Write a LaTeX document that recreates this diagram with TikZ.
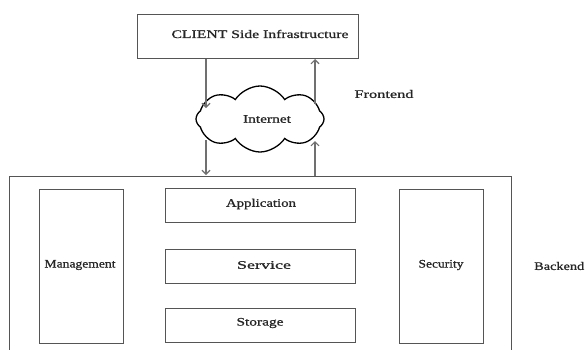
\documentclass[tikz,border=0pt]{standalone}
\usepackage{fontspec}
\setmainfont{Liberation Serif}
\newfontfamily\lblfont{Liberation Serif}[FakeBold=0.8]
\usepackage{graphicx}
\usetikzlibrary{arrows.meta,shapes.symbols}
\newcommand{\fitw}[2]{\resizebox{#1}{\height}{#2}}
\definecolor{boxline}{HTML}{555555}
\definecolor{arrline}{HTML}{707070}
\definecolor{txt}{HTML}{262626}
\tikzset{
  box/.style={draw=boxline, line width=1pt, inner sep=0pt},
  lbl/.style={text=txt, font=\lblfont\fontsize{11.5}{12}\selectfont, inner sep=0pt},
  arr/.style={draw=arrline, line width=1.1pt, -{Straight Barb[length=4pt,width=8pt]}},
}
\begin{document}
\begin{tikzpicture}[x=1pt,y=-1pt]
\useasboundingbox (0,0) rectangle (585,349);
\clip (0,0) rectangle (585,349);
\fill[white] (0,0) rectangle (585,349);
% client
\node[box, minimum width=221pt, minimum height=44pt] (client) at (247.5,36) {};
\node[lbl] (clienttxt) at (260,34) {\fitw{177pt}{CLIENT Side Infrastructure}};
% cloud
\node[cloud, draw=black, line width=1.3pt, cloud puffs=8, cloud puff arc=115, aspect=2.0,
      minimum width=128pt, minimum height=66pt, inner sep=0pt] (cloud) at (260,119) {};
\node[lbl] (internet) at (267,119) {\fitw{48pt}{Internet}};
% frontend / backend labels
\node[lbl] (frontend) at (384,94) {\fitw{59pt}{Frontend}};
\node[lbl, anchor=west] (backendtxt) at (534,266) {\fitw{50pt}{Backend}};
% backend box
\node[box, anchor=north west, minimum width=502pt, minimum height=200pt] (backend) at (9,176) {};
% inner boxes
\node[box, minimum width=84pt, minimum height=154pt] (mgmt) at (81,266) {};
\node[lbl] (mgmttxt) at (80,265) {\fitw{71pt}{Management}};
\node[box, minimum width=84pt, minimum height=154pt] (sec) at (441,266) {};
\node[lbl] (sectxt) at (441,265) {\fitw{45pt}{Security}};
\node[box, minimum width=190pt, minimum height=34pt] (app) at (260,205) {};
\node[lbl] (apptxt) at (261,204) {\fitw{70pt}{Application}};
\node[box, minimum width=190pt, minimum height=34pt] (srv) at (260,266) {};
\node[lbl] (srvtxt) at (264,265) {\fitw{54pt}{Service}};
\node[box, minimum width=190pt, minimum height=34pt] (sto) at (260,325) {};
\node[lbl] (stotxt) at (260,323) {\fitw{47pt}{Storage}};
% arrow end points
\coordinate (c1) at (206,108);
\coordinate (c2) at (315,104);
\coordinate (c3) at (206,140);
\coordinate (c4) at (315,141);
\coordinate (b1) at (206,175);
\coordinate (t1) at (315,59);
\draw[arr] (client.south -| c1) -- (c1);
\draw[arr] (c2) -- (t1);
\draw[arr] (c3) -- (b1);
\draw[arr] (backend.north -| c4) -- (c4);
\end{tikzpicture}
\end{document}
